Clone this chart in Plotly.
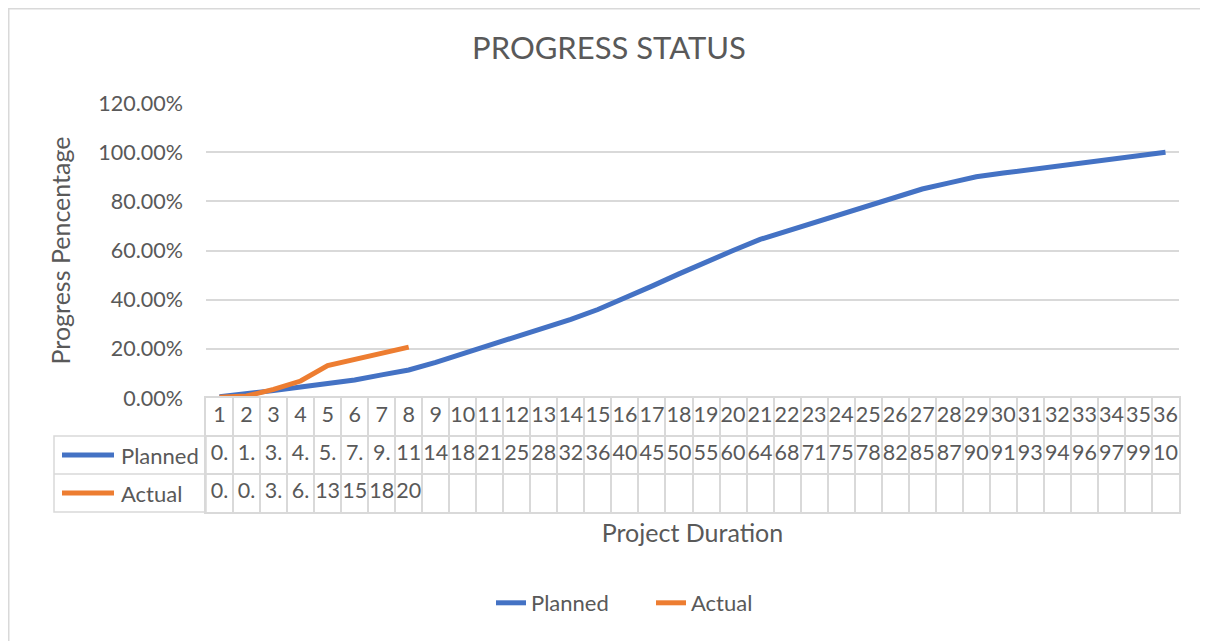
import plotly.graph_objects as go

# ---- data ----
periods = list(range(1, 37))
planned = [0.5, 1.5, 3.0, 4.5, 5.8, 7.3, 9.4, 11.4, 14.5, 18.0, 21.0, 25.0,
           28.5, 32.0, 36.0, 40.5, 45.5, 50.5, 55.5, 60.0, 64.5, 68.0, 71.0, 75.0,
           78.5, 82.0, 85.0, 87.5, 90.0, 91.5, 93.0, 94.5, 96.0, 97.5, 99.0, 100.0]
actual = [0.3, 0.8, 3.5, 6.9, 13.2, 15.8, 18.5, 20.7]
series_names = ["Planned", "Actual"]
colors = ["#4472C4", "#ED7D31"]

TXT = "#595959"
GRID = "#D9D9D9"
FONT = "Lato"
FS = 21.5      # tick / table numbers
FS_T = 22      # table & legend names
FS_AX = 25     # axis titles

def cell_text(v):
    # Excel clips the "x.xx%" text to the narrow cell width
    return f"{v:.2f}%"[:2]

fig = go.Figure()

fig.add_trace(go.Scatter(x=periods, y=planned, mode="lines", name=series_names[0],
                         line=dict(color=colors[0], width=5), xaxis="x", yaxis="y"))
fig.add_trace(go.Scatter(x=periods[:len(actual)], y=actual, mode="lines", name=series_names[1],
                         line=dict(color=colors[1], width=5), xaxis="x", yaxis="y"))

# data table text (table subplot)
fig.add_trace(go.Scatter(x=periods, y=[2.5] * len(periods), mode="text",
                         text=[str(p) for p in periods], textfont=dict(size=FS, color=TXT, family=FONT),
                         showlegend=False, hoverinfo="skip", xaxis="x2", yaxis="y2"))
fig.add_trace(go.Scatter(x=periods, y=[1.5] * len(planned), mode="text",
                         text=[cell_text(v) for v in planned], textfont=dict(size=FS, color=TXT, family=FONT),
                         showlegend=False, hoverinfo="skip", xaxis="x2", yaxis="y2"))
fig.add_trace(go.Scatter(x=periods[:len(actual)], y=[0.5] * len(actual), mode="text",
                         text=[cell_text(v) for v in actual], textfont=dict(size=FS, color=TXT, family=FONT),
                         showlegend=False, hoverinfo="skip", xaxis="x2", yaxis="y2"))

# page has an 8px body margin: figure origin sits at page (8, 8)
OX = OY = 8
W, H = 1200, 633
L = 206 - OX
T = 103 - OY
R = W - (1179 - OX)
B = H - (512 - OY)
pw = W - L - R
ph = H - T - B
split = 114 / ph  # table height fraction

def px2x(px):  # page pixel -> paper x
    return (px - OX - L) / pw

def px2y(py):  # page pixel -> paper y
    return (H - B - (py - OY)) / ph

shapes = []
row_h = split / 3
shapes.append(dict(type="rect", xref="paper", yref="paper", x0=px2x(54), x1=0,
                   y0=0, y1=2 * row_h, line=dict(color=GRID, width=1.5), layer="below"))
shapes.append(dict(type="line", xref="paper", yref="paper", x0=px2x(54), x1=0,
                   y0=row_h, y1=row_h, line=dict(color=GRID, width=1.5)))
annotations = []
for i, name in enumerate(series_names):
    yc = (1.5 - i) * row_h
    shapes.append(dict(type="line", xref="paper", yref="paper", x0=px2x(62), x1=px2x(114),
                       y0=yc, y1=yc, line=dict(color=colors[i], width=5)))
    annotations.append(dict(text=name, xref="paper", yref="paper", x=px2x(119), y=yc,
                            xanchor="left", yanchor="middle", showarrow=False,
                            font=dict(size=FS_T, color=TXT, family=FONT)))
# chart area border
shapes.append(dict(type="rect", xref="paper", yref="paper", x0=px2x(8.75), x1=px2x(1206),
                   y0=px2y(660), y1=px2y(8.75), line=dict(color=GRID, width=1.5), layer="below"))

fig.update_layout(
    width=W, height=H,
    margin=dict(l=L, r=R, t=T, b=B, pad=0),
    paper_bgcolor="white", plot_bgcolor="white",
    font=dict(family=FONT, color=TXT, size=FS),
    title=dict(text="PROGRESS STATUS", x=(609 - OX) / W, xanchor="center",
               y=1 - (48 - OY) / H, yanchor="middle",
               font=dict(size=31, color=TXT, family=FONT)),
    xaxis=dict(domain=[0, 1], anchor="y", range=[0.5, 36.5], showticklabels=False,
               showgrid=False, zeroline=False, showline=False, fixedrange=True),
    yaxis=dict(domain=[split, 1], anchor="x", range=[0, 120], dtick=20, tickformat=".2f", ticksuffix="%",
               showgrid=True, gridcolor=GRID, gridwidth=1.5, zeroline=False, showline=False,
               ticks="", ticklabelstandoff=22, tickfont=dict(size=FS, color=TXT, family=FONT),
               title=dict(text="Progress Pencentage", standoff=20,
                          font=dict(size=FS_AX, color=TXT, family=FONT))),
    xaxis2=dict(domain=[0, 1], anchor="y2", range=[0.5, 36.5],
                tickvals=[p - 0.5 for p in periods] + [periods[-1] + 0.5],
                showticklabels=False, ticks="", showgrid=True, gridcolor=GRID, gridwidth=1.5,
                zeroline=False, showline=True, linecolor=GRID, linewidth=1.5, mirror=True,
                title=dict(text="Project Duration", standoff=12,
                           font=dict(size=FS_AX, color=TXT, family=FONT))),
    yaxis2=dict(domain=[0, split], anchor="x2", range=[0, 3], tickvals=[0, 1, 2, 3],
                showticklabels=False, ticks="", showgrid=True, gridcolor=GRID, gridwidth=1.5,
                zeroline=False, showline=True, linecolor=GRID, linewidth=1.5, mirror=True),
    showlegend=True,
    legend=dict(orientation="h", x=px2x(491), xanchor="left", y=px2y(603), yanchor="middle",
                entrywidth=115, entrywidthmode="pixels",
                font=dict(size=FS_T, color=TXT, family=FONT), bgcolor="rgba(0,0,0,0)"),
    shapes=shapes,
    annotations=annotations,
)

fig.write_html("out.html")
